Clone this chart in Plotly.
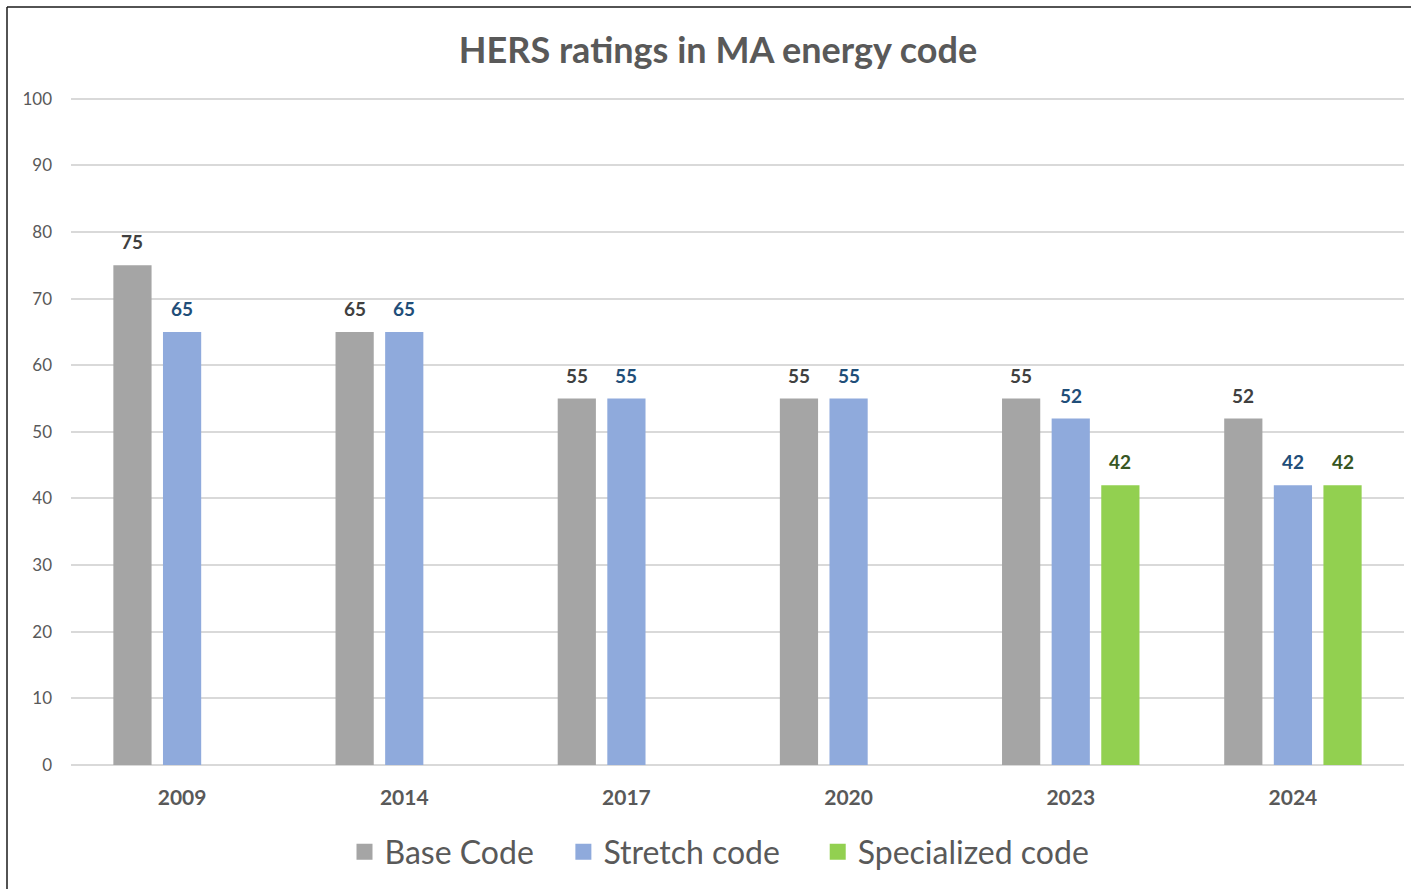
import plotly.graph_objects as go

years = ["2009", "2014", "2017", "2020", "2023", "2024"]
base_code = [75, 65, 55, 55, 55, 52]
stretch_code = [65, 65, 55, 55, 52, 42]
specialized_code = [None, None, None, None, 42, 42]

series_names = ["Base Code", "Stretch code", "Specialized code"]
series_values = [base_code, stretch_code, specialized_code]
bar_colors = ["#A5A5A5", "#8FAADC", "#92D050"]
label_colors = ["#404040", "#1F4E79", "#375623"]

FONT = "Lato"
BARGAP = 0.33

fig = go.Figure()
for name, vals, col in zip(series_names, series_values, bar_colors):
    fig.add_trace(go.Bar(name=name, x=years, y=vals, showlegend=False,
                         marker=dict(color=col, line=dict(width=0))))
# legend entries with larger square swatches (extra spacing after the first two entries)
pads = ["\u00a0" * 3, "\u00a0" * 4, ""]
for name, col, pad in zip(series_names, bar_colors, pads):
    fig.add_trace(go.Scatter(name=name + pad, x=[None], y=[None], mode="markers",
                             marker=dict(symbol="square", size=20, color=col)))

# data labels above bars
slot = (1 - BARGAP) / len(series_values)
annotations = []
for j, (vals, lc) in enumerate(zip(series_values, label_colors)):
    for i, v in enumerate(vals):
        if v is None:
            continue
        annotations.append(dict(
            x=i + (j - 1) * slot, y=v, xref="x", yref="y", text=f"<b>{v}</b>",
            showarrow=False, yanchor="bottom", yshift=10,
            font=dict(family=FONT, size=19, color=lc)))

W, H = 1411, 889
ml, mr, mt, mb = 71, 7, 92, 124
pw, ph = W - ml - mr, H - mt - mb
bx0 = (7 - ml) / pw
by1 = (H - mb - 7) / ph

fig.update_layout(
    width=W, height=H,
    margin=dict(l=ml, r=mr, t=mt, b=mb),
    paper_bgcolor="white", plot_bgcolor="white",
    barmode="group", bargap=BARGAP, bargroupgap=0.23,
    title=dict(text="<b>HERS ratings in MA energy code</b>", xref="container", x=718 / W, xanchor="center",
               y=1 - 50 / H, yanchor="middle",
               font=dict(family=FONT, size=36, color="#595959")),
    font=dict(family=FONT, color="#595959"),
    showlegend=True,
    legend=dict(orientation="h", x=0.5 - 18 / pw, xanchor="center", y=-(852 - (H - mb)) / ph, yanchor="middle",
                font=dict(family=FONT, size=32, color="#595959"), itemwidth=30,
                itemsizing="trace"),
    annotations=annotations,
    shapes=[
        dict(type="line", xref="paper", yref="paper", x0=bx0, x1=bx0, y0=-2, y1=by1,
             line=dict(color="#1a1a1a", width=1.5)),
        dict(type="line", xref="paper", yref="paper", x0=bx0, x1=2, y0=by1, y1=by1,
             line=dict(color="#1a1a1a", width=1.5)),
    ],
)
fig.update_yaxes(range=[0, 101], tickvals=list(range(0, 101, 10)), showgrid=True,
                 gridcolor="#D9D9D9", gridwidth=1.5,
                 zeroline=True, zerolinecolor="#D9D9D9", zerolinewidth=1.5,
                 tickfont=dict(family=FONT, size=17, color="#595959"), ticklabelstandoff=18,
                 showline=False)
fig.update_xaxes(tickfont=dict(family=FONT, size=21, color="#595959"), tickprefix="<b>", ticksuffix="</b>",
                 ticklabelstandoff=18, showline=False)

fig.write_html("out.html", config={"displayModeBar": False},
               post_script="document.body.style.margin='0';document.body.style.overflow='hidden';")
